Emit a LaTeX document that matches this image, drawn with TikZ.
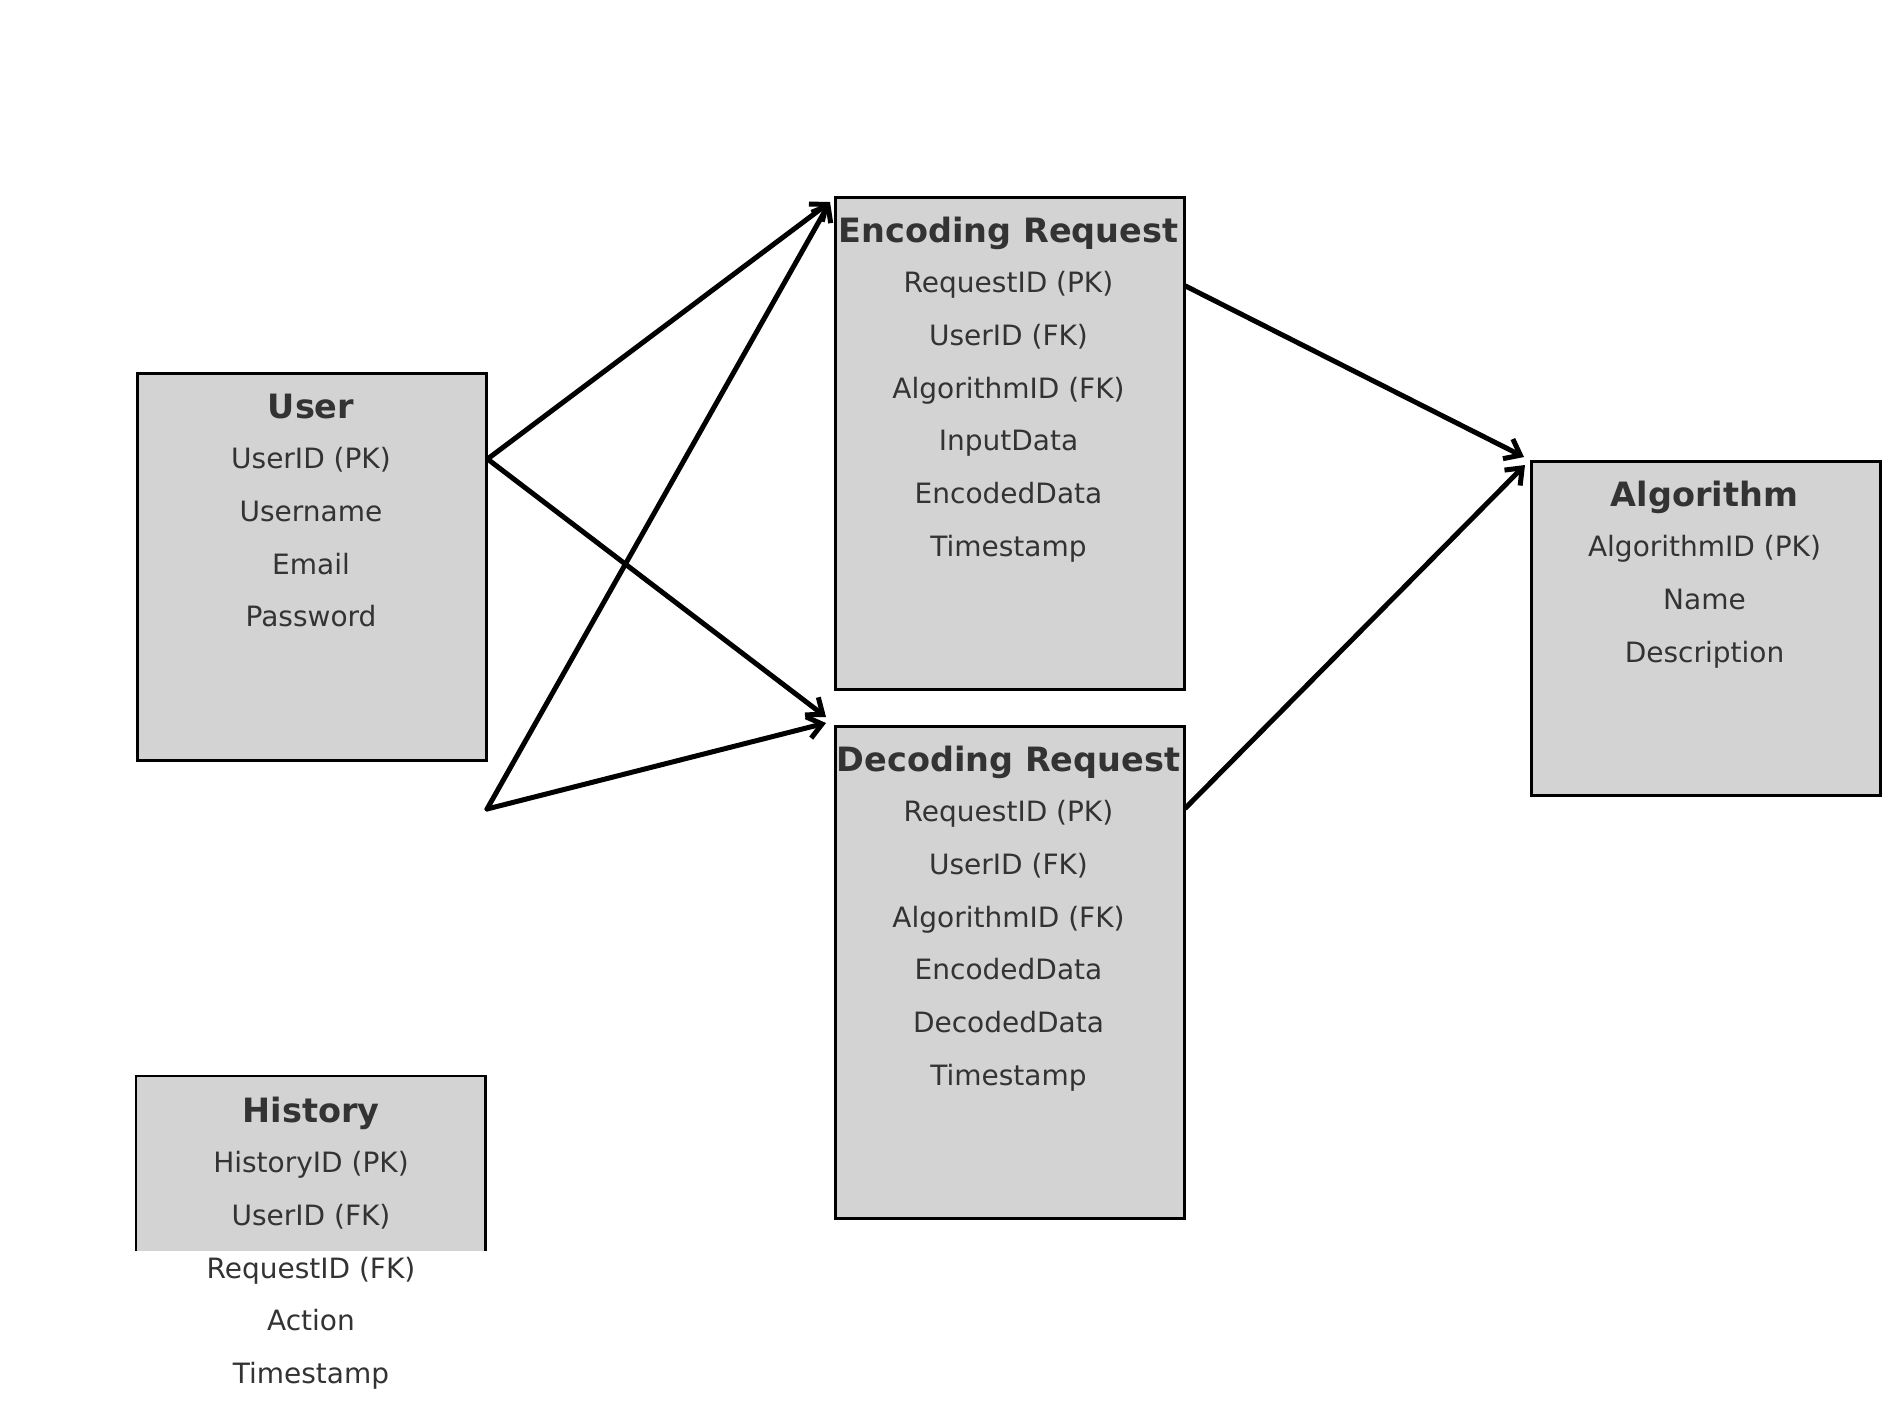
\documentclass[tikz,border=0pt]{standalone}
\usepackage{fontspec}
\setmainfont{DejaVu Sans}
\usetikzlibrary{arrows.meta,calc}
\definecolor{boxfill}{HTML}{D3D3D3}
\definecolor{txt}{HTML}{333333}
\begin{document}
\begin{tikzpicture}[x=1pt,y=-1pt,
  entity/.style={draw=black, fill=boxfill, line width=2.5pt, minimum width=349pt, inner sep=0pt, anchor=north west},
  ttl/.style={anchor=base, text=txt, font=\fontsize{33.5}{40}\selectfont\bfseries, inner sep=0pt},
  fld/.style={anchor=base, text=txt, font=\fontsize{28}{33}\selectfont, inner sep=0pt},
  rel/.style={line width=5pt, -{Straight Barb[length=14pt,width=22pt]}, line cap=round}]
\useasboundingbox (0,0) rectangle (1900,1409);

% boxes
\node[entity, minimum height=387pt] (user) at (136,372) {};
\node[entity, minimum height=492pt] (enc) at (834,196) {};
\node[entity, minimum height=492pt] (dec) at (834,725) {};
\node[entity, minimum height=334pt] (alg) at (1530,460) {};
\node[fill=boxfill, minimum width=349pt, minimum height=175pt, inner sep=0pt, anchor=north west] (hist) at (136,1076) {};
\draw[line width=2.5pt] (hist.south west) -- (hist.north west) -- (hist.north east) -- (hist.south east);

% User
\node[ttl] (user-t) at (311,418) {User};
\node[fld] (user-1) at (311,468.7) {UserID (PK)};
\node[fld] (user-2) at (311,521.4) {Username};
\node[fld] (user-3) at (311,574.1) {Email};
\node[fld] (user-4) at (311,626.8) {Password};

% Encoding Request
\node[ttl] (enc-t) at (1008.5,242) {Encoding Request};
\node[fld] (enc-1) at (1008.5,292.7) {RequestID (PK)};
\node[fld] (enc-2) at (1008.5,345.4) {UserID (FK)};
\node[fld] (enc-3) at (1008.5,398.1) {AlgorithmID (FK)};
\node[fld] (enc-4) at (1008.5,450.8) {InputData};
\node[fld] (enc-5) at (1008.5,503.5) {EncodedData};
\node[fld] (enc-6) at (1008.5,556.2) {Timestamp};

% Decoding Request
\node[ttl] (dec-t) at (1008.5,771) {Decoding Request};
\node[fld] (dec-1) at (1008.5,821.7) {RequestID (PK)};
\node[fld] (dec-2) at (1008.5,874.4) {UserID (FK)};
\node[fld] (dec-3) at (1008.5,927.1) {AlgorithmID (FK)};
\node[fld] (dec-4) at (1008.5,979.8) {EncodedData};
\node[fld] (dec-5) at (1008.5,1032.5) {DecodedData};
\node[fld] (dec-6) at (1008.5,1085.2) {Timestamp};

% Algorithm
\node[ttl] (alg-t) at (1704.5,506) {Algorithm};
\node[fld] (alg-1) at (1704.5,556.7) {AlgorithmID (PK)};
\node[fld] (alg-2) at (1704.5,609.4) {Name};
\node[fld] (alg-3) at (1704.5,662.1) {Description};

% History
\node[ttl] (hist-t) at (311,1122) {History};
\node[fld] (hist-1) at (311,1172.7) {HistoryID (PK)};
\node[fld] (hist-2) at (311,1225.4) {UserID (FK)};
\node[fld] (hist-3) at (311,1278.1) {RequestID (FK)};
\node[fld] (hist-4) at (311,1330.8) {Action};
\node[fld] (hist-5) at (311,1383.5) {Timestamp};

% connector end points
\coordinate (uOut) at ($(user.north east)+(0,87)$);
\coordinate (free) at (487,809);
\coordinate (encIn) at ($(enc.north west)+(-4,6)$);
\coordinate (decIn1) at ($(dec.north west)+(-8,-8)$);
\coordinate (decIn2) at ($(dec.north west)+(-8,-2)$);
\coordinate (encOut) at ($(enc.north east)+(0,90)$);
\coordinate (decOut) at ($(dec.north east)+(0,83)$);
\coordinate (algIn1) at ($(alg.north west)+(-6,-3)$);
\coordinate (algIn2) at ($(alg.north west)+(-5,5)$);

% connectors
\draw[rel] (uOut) -- (encIn);
\draw[rel] (uOut) -- (decIn1);
\draw[rel] (free) -- (encIn);
\draw[rel] (free) -- (decIn2);
\draw[rel] (encOut) -- (algIn1);
\draw[rel] (decOut) -- (algIn2);
\end{tikzpicture}
\end{document}
